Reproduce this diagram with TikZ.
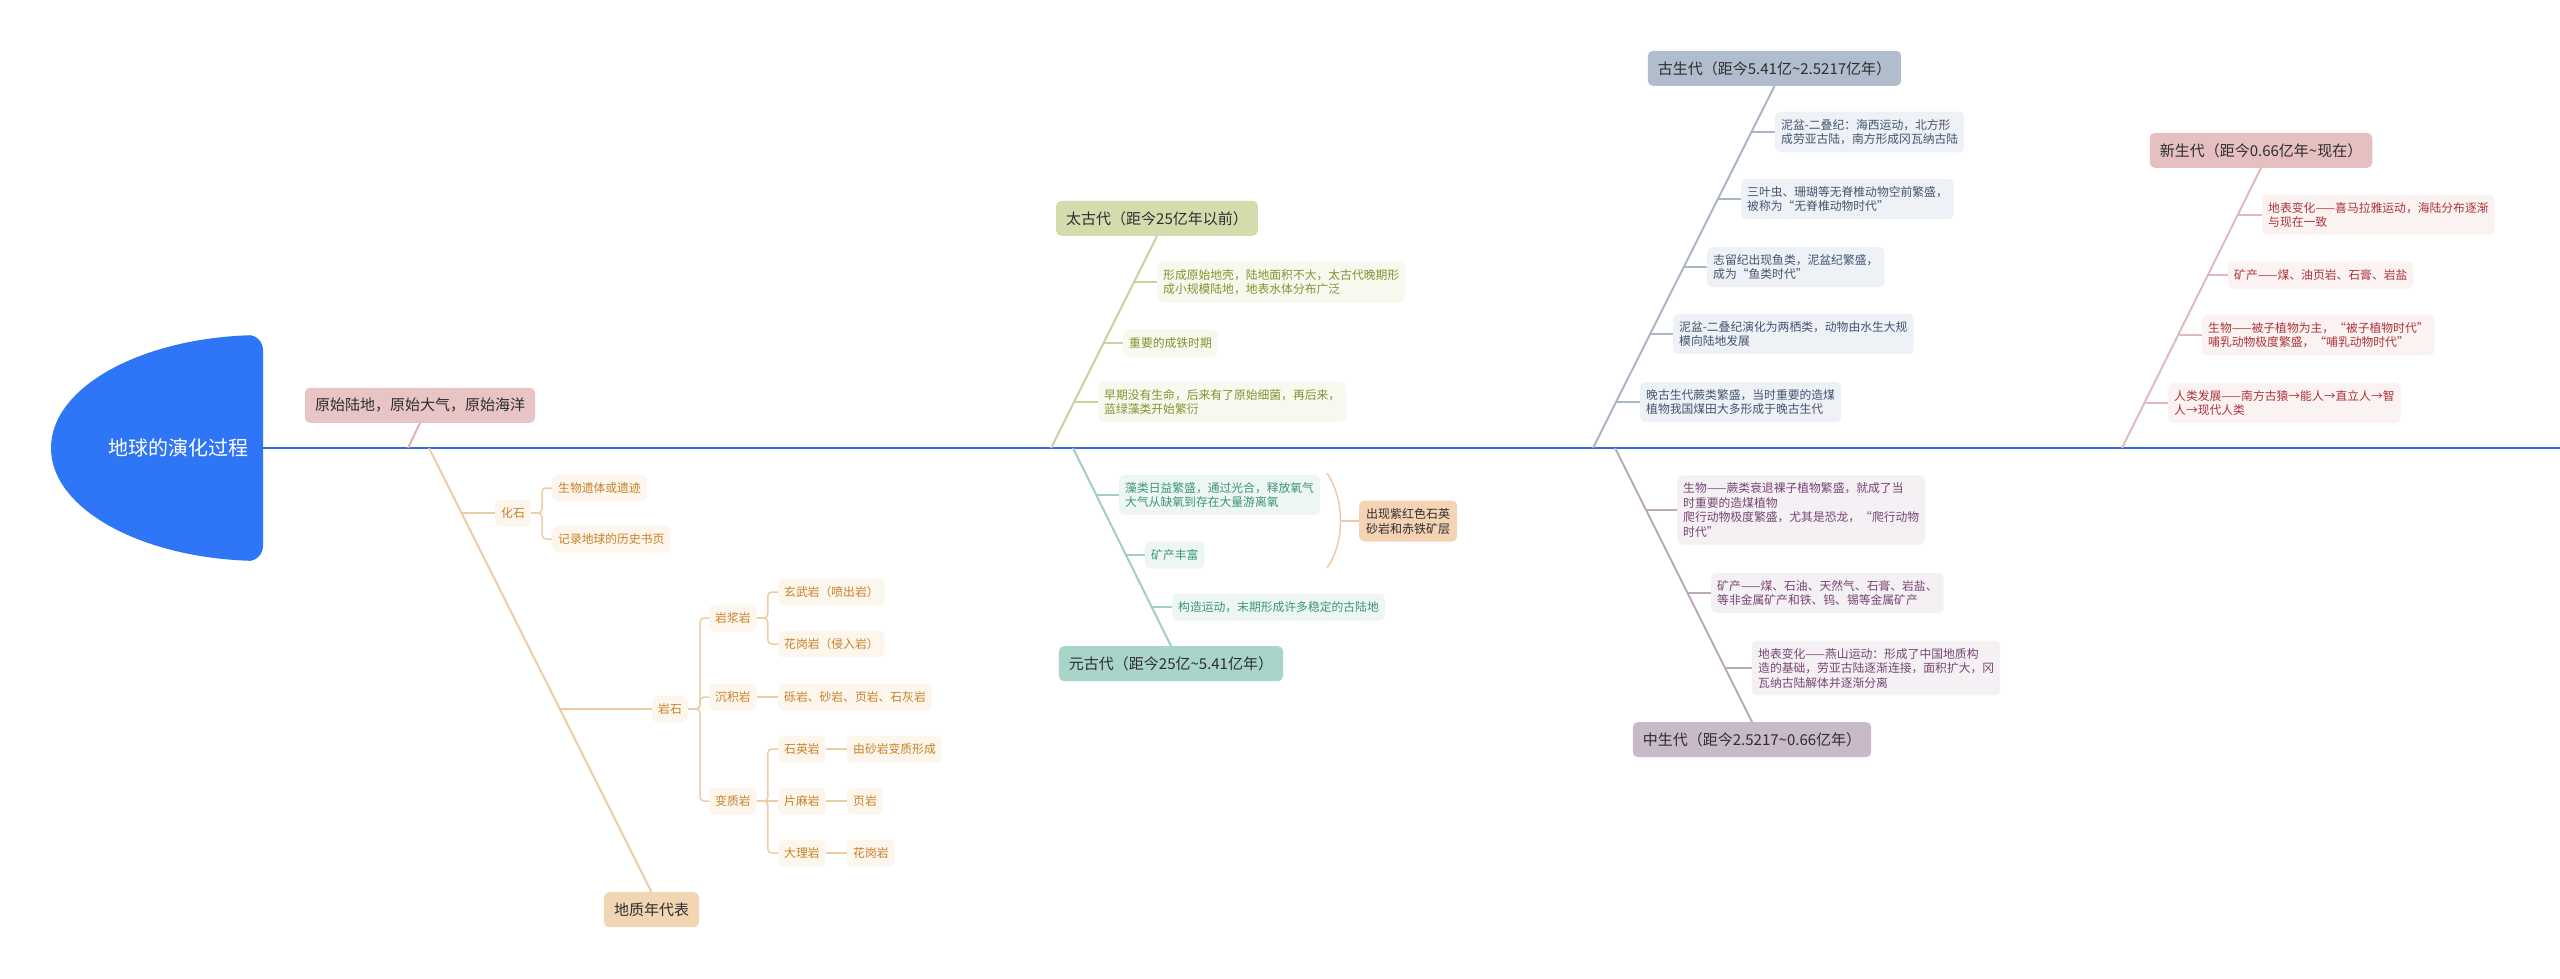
\documentclass[tikz,border=0pt]{standalone}
\usepackage{fontspec}
\setmainfont{Noto Sans CJK SC}
\usetikzlibrary{calc}

\definecolor{headblue}{RGB}{46,118,245}
\definecolor{spineblue}{RGB}{48,108,218}
\definecolor{darktext}{RGB}{45,45,45}
% era colours
\definecolor{ysfill}{RGB}{232,196,197}
\definecolor{ysline}{RGB}{222,178,182}
\definecolor{dzfill}{RGB}{242,213,178}
\definecolor{dzline}{RGB}{236,204,165}
\definecolor{rocktext}{RGB}{200,128,40}
\definecolor{rockfill}{RGB}{253,246,236}
\definecolor{tgfill}{RGB}{214,219,174}
\definecolor{tgline}{RGB}{202,210,160}
\definecolor{tgtext}{RGB}{128,148,48}
\definecolor{tgleaf}{RGB}{247,248,238}
\definecolor{ygfill}{RGB}{169,212,201}
\definecolor{ygline}{RGB}{162,206,195}
\definecolor{ygtext}{RGB}{58,148,124}
\definecolor{ygleaf}{RGB}{238,246,244}
\definecolor{sumfill}{RGB}{245,212,181}
\definecolor{sumline}{RGB}{240,202,168}
\definecolor{gsfill}{RGB}{177,188,204}
\definecolor{gsline}{RGB}{170,181,197}
\definecolor{gstext}{RGB}{68,84,114}
\definecolor{gsleaf}{RGB}{238,241,245}
\definecolor{zsfill}{RGB}{201,186,201}
\definecolor{zsline}{RGB}{186,170,186}
\definecolor{zstext}{RGB}{118,70,114}
\definecolor{zsleaf}{RGB}{244,240,244}
\definecolor{xsfill}{RGB}{230,192,193}
\definecolor{xsline}{RGB}{226,186,187}
\definecolor{xstext}{RGB}{172,52,58}
\definecolor{xsleaf}{RGB}{251,242,242}

\begin{document}
\begin{tikzpicture}[
        x=1pt, y=-1pt,
        era/.style={rectangle, rounded corners=5pt, inner xsep=10pt, inner ysep=0pt, minimum height=35pt, text=darktext, font=\fontsize{15}{18}\selectfont},
        leaf/.style={rectangle, rounded corners=5pt, inner xsep=6pt, inner ysep=7.4pt, minimum height=27pt, align=left, anchor=west, font=\fontsize{11.8}{14.5}\selectfont},
        rock/.style={leaf, fill=rockfill, text=rocktext},
        tgbox/.style={leaf, fill=tgleaf, text=tgtext},
        ygbox/.style={leaf, fill=ygleaf, text=ygtext},
        gsbox/.style={leaf, fill=gsleaf, text=gstext},
        zsbox/.style={leaf, fill=zsleaf, text=zstext},
        xsbox/.style={leaf, fill=xsleaf, text=xstext},
        spine/.style={line width=2.6pt, draw=spineblue},
        bone/.style={line width=2pt},
        rocklink/.style={line width=1.5pt, draw=dzline, rounded corners=4pt}
    ]
    \useasboundingbox (0,0) rectangle (2560,978);

    % head
    \begin{scope}
        \clip[rounded corners=15pt] (0,335) rectangle (263,561);
        \fill[headblue] (263,448) ellipse [x radius=212pt, y radius=113pt];
    \end{scope}
    \node[text=white, font=\fontsize{20}{24}\selectfont] (head) at (178,448) {地球的演化过程};
    \coordinate (s0) at (263,448);
    \coordinate (s9) at (2560,448);
    \draw[spine] (s0) -- (s9);

    % points on the spine
    \coordinate (p1) at (408,448);
    \coordinate (p2) at (429,448);
    \coordinate (p3) at (1051,448);
    \coordinate (p4) at (1073,448);
    \coordinate (p5) at (1593,448);
    \coordinate (p6) at (1615,448);
    \coordinate (p7) at (2122,448);

    % era boxes
    \node[era, fill=ysfill, anchor=south] (yuanshi) at (420,423) {原始陆地，原始大气，原始海洋};
    \node[era, fill=dzfill, anchor=north] (dizhi) at (651.5,892) {地质年代表};
    \node[era, fill=tgfill, anchor=south] (taigu) at (1157,236) {太古代（距今25亿年以前）};
    \node[era, fill=ygfill, anchor=north] (yuangu) at (1171,646) {元古代（距今25亿{\textasciitilde}5.41亿年）};
    \node[era, fill=gsfill, anchor=south] (gusheng) at (1774.5,86) {古生代（距今5.41亿{\textasciitilde}2.5217亿年）};
    \node[era, fill=zsfill, anchor=north] (zhongsheng) at (1752,722) {中生代（距今2.5217{\textasciitilde}0.66亿年）};
    \node[era, fill=xsfill, anchor=south] (xinsheng) at (2261,168) {新生代（距今0.66亿年{\textasciitilde}现在）};

    \draw[bone, ysline] (p1) -- (yuanshi.south);
    \draw[bone, dzline] (p2) -- (dizhi.north);
    \draw[bone, tgline] (p3) -- (taigu.south);
    \draw[bone, ygline] (p4) -- (yuangu.north);
    \draw[bone, gsline] (p5) -- (gusheng.south);
    \draw[bone, zsline] (p6) -- (zhongsheng.north);
    \draw[bone, xsline] (p7) -- (xinsheng.south);

    % 地质年代表
    \node[rock] (huashi) at (495,513) {化石};
    \node[rock] (yiti) at (552,488) {生物遗体或遗迹};
    \node[rock] (jilu) at (552,539) {记录地球的历史书页};
    \node[rock] (yanshi) at (652,709) {岩石};
    \node[rock] (yanjiang) at (709,618) {岩浆岩};
    \node[rock] (chenji) at (709,697) {沉积岩};
    \node[rock] (bianzhi) at (709,801) {变质岩};
    \node[rock] (xuanwu) at (778,592) {玄武岩（喷出岩）};
    \node[rock] (huagang) at (778,644) {花岗岩（侵入岩）};
    \node[rock] (liyan) at (778,697) {砾岩、砂岩、页岩、石灰岩};
    \node[rock] (shiying) at (778,749) {石英岩};
    \node[rock] (pianma) at (778,801) {片麻岩};
    \node[rock] (dali) at (778,853) {大理岩};
    \node[rock] (shayan) at (847,749) {由砂岩变质形成};
    \node[rock] (yeyan) at (847,801) {页岩};
    \node[rock] (huagangyan) at (847,853) {花岗岩};

    \coordinate (d1) at (461.6,513);
    \coordinate (d2) at (559.8,709);
    \draw[rocklink] (d1) -- (huashi.west);
    \draw[rocklink] (d2) -- (yanshi.west);
    \draw[rocklink] (huashi.east) -- ++(11,0) |- (yiti.west);
    \draw[rocklink] (huashi.east) -- ++(11,0) |- (jilu.west);
    \draw[rocklink] (yanshi.east) -- ++(12,0) |- (yanjiang.west);
    \draw[rocklink] (yanshi.east) -- ++(12,0) |- (chenji.west);
    \draw[rocklink] (yanshi.east) -- ++(12,0) |- (bianzhi.west);
    \draw[rocklink] (yanjiang.east) -- ++(11,0) |- (xuanwu.west);
    \draw[rocklink] (yanjiang.east) -- ++(11,0) |- (huagang.west);
    \draw[rocklink] (chenji.east) -- (liyan.west);
    \draw[rocklink] (bianzhi.east) -- ++(11,0) |- (shiying.west);
    \draw[rocklink] (bianzhi.east) -- (pianma.west);
    \draw[rocklink] (bianzhi.east) -- ++(11,0) |- (dali.west);
    \draw[rocklink] (shiying.east) -- (shayan.west);
    \draw[rocklink] (pianma.east) -- (yeyan.west);
    \draw[rocklink] (dali.east) -- (huagangyan.west);

    % 太古代
    \node[tgbox] (tg1) at (1157,282) {形成原始地壳，陆地面积不大，太古代晚期形\\成小规模陆地，地表水体分布广泛};
    \node[tgbox] (tg2) at (1123,343) {重要的成铁时期};
    \node[tgbox] (tg3) at (1098,402) {早期没有生命，后来有了原始细菌，再后来，\\蓝绿藻类开始繁衍};
    \coordinate (t1) at (1134,282);
    \coordinate (t2) at (1103.5,343);
    \coordinate (t3) at (1074,402);
    \draw[bone, tgline] (t1) -- (tg1.west);
    \draw[bone, tgline] (t2) -- (tg2.west);
    \draw[bone, tgline] (t3) -- (tg3.west);

    % 元古代
    \node[ygbox] (yg1) at (1119,495) {藻类日益繁盛，通过光合，释放氧气\\大气从缺氧到存在大量游离氧};
    \node[ygbox] (yg2) at (1145,555) {矿产丰富};
    \node[ygbox] (yg3) at (1172,607) {构造运动，末期形成许多稳定的古陆地};
    \coordinate (y1) at (1096.3,495);
    \coordinate (y2) at (1126,555);
    \coordinate (y3) at (1151.7,607);
    \draw[bone, ygline] (y1) -- (yg1.west);
    \draw[bone, ygline] (y2) -- (yg2.west);
    \draw[bone, ygline] (y3) -- (yg3.west);
    \node[leaf, fill=sumfill, text=darktext, align=center, inner xsep=7pt, font=\fontsize{12}{15}\selectfont] (chuxian) at (1359,521) {出现紫红色石英\\砂岩和赤铁矿层};
    \coordinate (kb1) at (1327,473);
    \coordinate (kb2) at (1327,568);
    \coordinate (kbm) at (1340.5,521);
    \draw[line width=1.5pt, sumline] (kb1) .. controls (1345,500) and (1345,542) .. (kb2);
    \draw[line width=1.5pt, sumline] (kbm) -- (chuxian.west);

    % 古生代
    \node[gsbox] (gs1) at (1775,132) {泥盆-二叠纪：海西运动，北方形\\成劳亚古陆，南方形成冈瓦纳古陆};
    \node[gsbox] (gs2) at (1741,199) {三叶虫、珊瑚等无脊椎动物空前繁盛，\\被称为“无脊椎动物时代”};
    \node[gsbox] (gs3) at (1707,267) {志留纪出现鱼类，泥盆纪繁盛，\\成为“鱼类时代”};
    \node[gsbox] (gs4) at (1673,334) {泥盆-二叠纪演化为两栖类，动物由水生大规\\模向陆地发展};
    \node[gsbox] (gs5) at (1640,402) {晚古生代蕨类繁盛，当时重要的造煤\\植物我国煤田大多形成于晚古生代};
    \coordinate (g1) at (1751.4,132);
    \coordinate (g2) at (1717.8,199);
    \coordinate (g3) at (1683.7,267);
    \coordinate (g4) at (1650.1,334);
    \coordinate (g5) at (1616,402);
    \draw[bone, gsline] (g1) -- (gs1.west);
    \draw[bone, gsline] (g2) -- (gs2.west);
    \draw[bone, gsline] (g3) -- (gs3.west);
    \draw[bone, gsline] (g4) -- (gs4.west);
    \draw[bone, gsline] (g5) -- (gs5.west);

    % 中生代
    \node[zsbox] (zs1) at (1677,510) {生物——蕨类衰退裸子植物繁盛，就成了当\\时重要的造煤植物\\爬行动物极度繁盛，尤其是恐龙，“爬行动物\\时代”};
    \node[zsbox] (zs2) at (1711,593) {矿产——煤、石油、天然气、石膏、岩盐、\\等非金属矿产和铁、钨、锡等金属矿产};
    \node[zsbox] (zs3) at (1752,668) {地表变化——燕山运动：形成了中国地质构\\造的基础，劳亚古陆逐渐连接，面积扩大，冈\\瓦纳古陆解体并逐渐分离};
    \coordinate (z1) at (1646,510);
    \coordinate (z2) at (1687.5,593);
    \coordinate (z3) at (1725,668);
    \draw[bone, zsline] (z1) -- (zs1.west);
    \draw[bone, zsline] (z2) -- (zs2.west);
    \draw[bone, zsline] (z3) -- (zs3.west);

    % 新生代
    \node[xsbox] (xs1) at (2262,215) {地表变化——喜马拉雅运动，海陆分布逐渐\\与现在一致};
    \node[xsbox] (xs2) at (2228,275) {矿产——煤、油页岩、石膏、岩盐};
    \node[xsbox] (xs3) at (2202,335) {生物——被子植物为主，“被子植物时代”\\哺乳动物极度繁盛，“哺乳动物时代”};
    \node[xsbox] (xs4) at (2168,403) {人类发展——南方古猿→能人→直立人→智\\人→现代人类};
    \coordinate (n1) at (2237.6,215);
    \coordinate (n2) at (2207.8,275);
    \coordinate (n3) at (2178,335);
    \coordinate (n4) at (2144.3,403);
    \draw[bone, xsline] (n1) -- (xs1.west);
    \draw[bone, xsline] (n2) -- (xs2.west);
    \draw[bone, xsline] (n3) -- (xs3.west);
    \draw[bone, xsline] (n4) -- (xs4.west);
\end{tikzpicture}
\end{document}
